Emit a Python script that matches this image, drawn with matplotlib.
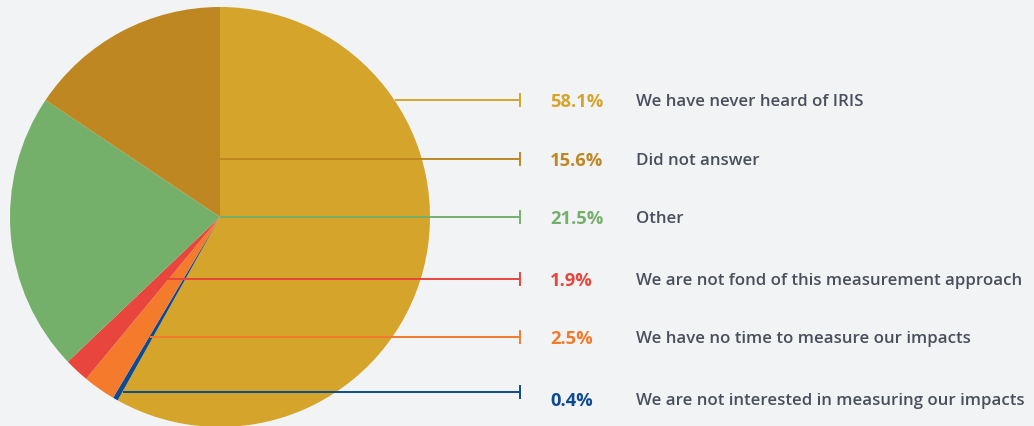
import matplotlib.pyplot as plt

# data, in pie order (clockwise from 12 o'clock)
labels = [
    "We have never heard of IRIS",
    "We are not interested in measuring our impacts",
    "We have no time to measure our impacts",
    "We are not fond of this measurement approach",
    "Other",
    "Did not answer",
]
shares = [58.1, 0.4, 2.5, 1.9, 21.5, 15.6]
colors = ["#D4A52A", "#0D4A91", "#F47A2C", "#E8453C", "#75B06B", "#BF8722"]

# legend order top to bottom (indices into the lists above)
legend_order = [0, 5, 4, 3, 2, 1]
row_y = [101, 160, 218, 280, 338, 393]
# leader start points (pixel coords, y from top)
leader_start = {0: (395, 101), 5: (220, 160), 4: (220, 218),
                3: (165, 280), 2: (150, 338), 1: (123, 393)}

W, H = 1034, 427
fig = plt.figure(figsize=(W / 100, H / 100), dpi=100)
fig.patch.set_facecolor("#F2F3F5")
ax = fig.add_axes([0, 0, 1, 1])

cx, cy, r = 220, H - 218, 210
ax.pie(shares, colors=colors, startangle=90, counterclock=False,
       center=(cx, cy), radius=r, frame=True,
       wedgeprops=dict(linewidth=0.4, edgecolor="none"))
ax.set_xlim(0, W)
ax.set_ylim(0, H)
ax.set_aspect("equal")
ax.axis("off")

fam = ["Open Sans", "DejaVu Sans"]
for i, yy in zip(legend_order, row_y):
    x0, y0 = leader_start[i]
    Y = H - yy
    ax.plot([x0, 520], [H - y0, Y], color=colors[i], lw=1.4, solid_capstyle="butt")
    ax.plot([520, 520], [Y - 6, Y + 6], color=colors[i], lw=1.4)
    ty = Y - 1 if i != 1 else Y - 8
    ax.text(550, ty, f"{shares[i]}%", color=colors[i], fontsize=13.2,
            fontweight="bold", va="center", ha="left", family=fam)
    ax.text(636, ty, labels[i], color="#4A4F5C", fontsize=12.2,
            fontweight="semibold", va="center", ha="left", family=fam)

fig.savefig("out.png", dpi=100, facecolor=fig.get_facecolor())
